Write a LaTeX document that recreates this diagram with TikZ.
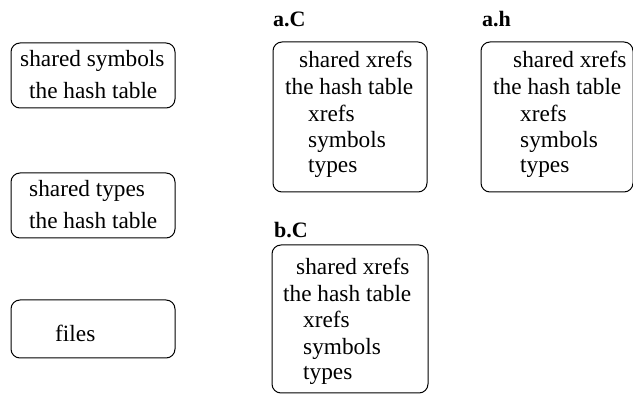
\documentclass[tikz,border=0pt]{standalone}
\usepackage{fontspec}
\setmainfont{Liberation Serif}
\begin{document}
\begin{tikzpicture}[x=1pt,y=-1pt,
  box/.style={draw,line width=1pt,rounded corners=9pt},
  txt/.style={anchor=base west,inner sep=0pt,font=\fontsize{23.3}{27}\selectfont},
  lbl/.style={anchor=base west,inner sep=0pt,font=\fontsize{22}{26}\selectfont\bfseries}]
\useasboundingbox (0,0) rectangle (633,395);
% left column
\draw[box] (11,43) rectangle (175,108);
\node[txt] (s1) at (20,67) {shared symbols};
\node[txt] (s2) at (29,99) {the hash table};
\draw[box] (11,173) rectangle (175,238);
\node[txt] (t1) at (29,197) {shared types};
\node[txt] (t2) at (29,229) {the hash table};
\draw[box] (11,300) rectangle (175,358);
\node[txt] (f1) at (55,342) {files};
% a.C
\node[lbl] (aC) at (273,27) {a.C};
\draw[box] (273,42) rectangle (427,192);
\node[txt] (ac1) at (299,68) {shared xrefs};
\node[txt] (ac2) at (285,95) {the hash table};
\node[txt] (ac3) at (308,122) {xrefs};
\node[txt] (ac4) at (308,148) {symbols};
\node[txt] (ac5) at (308,173) {types};
% a.h
\node[lbl] (ah) at (482,27) {a.h};
\draw[box] (481,42) rectangle (633,192);
\node[txt] (ah1) at (513,68) {shared xrefs};
\node[txt] (ah2) at (493,95) {the hash table};
\node[txt] (ah3) at (520,122) {xrefs};
\node[txt] (ah4) at (520,148) {symbols};
\node[txt] (ah5) at (520,173) {types};
% b.C
\node[lbl] (bC) at (274,238) {b.C};
\draw[box] (272,245) rectangle (428,393);
\node[txt] (bc1) at (296,275) {shared xrefs};
\node[txt] (bc2) at (283,302) {the hash table};
\node[txt] (bc3) at (303,328) {xrefs};
\node[txt] (bc4) at (303,355) {symbols};
\node[txt] (bc5) at (303,380) {types};
\end{tikzpicture}
\end{document}
